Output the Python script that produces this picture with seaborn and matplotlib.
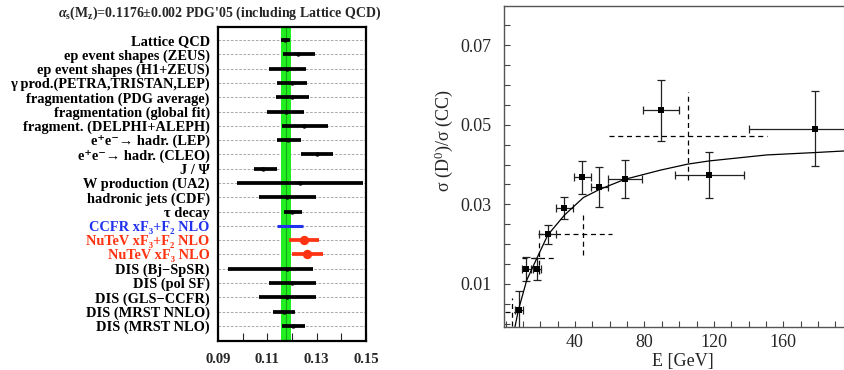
import numpy as np
import pandas as pd
import matplotlib
matplotlib.use('Agg')
import matplotlib.pyplot as plt
import seaborn as sns
from matplotlib.ticker import MultipleLocator

# left panel: alpha_s measurements
labels = ['Lattice QCD', 'ep event shapes (ZEUS)', 'ep event shapes (H1+ZEUS)',
          '\u03b3 prod.(PETRA,TRISTAN,LEP)', 'fragmentation (PDG average)',
          'fragmentation (global fit)', 'fragment. (DELPHI+ALEPH)',
          'e\u207ae\u207b\u2192 hadr. (LEP)', 'e\u207ae\u207b\u2192 hadr. (CLEO)', 'J / \u03a8',
          'W production (UA2)', 'hadronic jets (CDF)', '\u03c4 decay',
          'CCFR xF\u2083+F\u2082 NLO', 'NuTeV xF\u2083+F\u2082 NLO',
          'NuTeV xF\u2083 NLO', 'DIS (Bj\u2212SpSR)', 'DIS (pol SF)',
          'DIS (GLS\u2212CCFR)', 'DIS (MRST NNLO)', 'DIS (MRST NLO)']
alpha_val = [0.1172, 0.1226, 0.1178, 0.1199, 0.1201, 0.1174, 0.1249, 0.1185, 0.1303, 0.1081,
             0.1232, 0.1181, 0.1201, 0.1192, 0.1249, 0.1262, 0.1181, 0.1201, 0.1181, 0.1168, 0.1205]
err_lo = [0.0017, 0.0064, 0.0070, 0.0059, 0.0066, 0.0077, 0.0091, 0.0044, 0.0067, 0.0034,
          0.0254, 0.0113, 0.0035, 0.0052, 0.0061, 0.0062, 0.0242, 0.0093, 0.0113, 0.0044, 0.0045]
err_hi = [0.0020, 0.0067, 0.0079, 0.0061, 0.0067, 0.0075, 0.0098, 0.0050, 0.0062, 0.0057,
          0.0255, 0.0116, 0.0038, 0.0051, 0.0060, 0.0062, 0.0105, 0.0096, 0.0116, 0.0046, 0.0047]
group = ['other'] * 13 + ['CCFR', 'NuTeV', 'NuTeV'] + ['other'] * 5
pdg_avg, pdg_err = 0.1176, 0.002
alpha_ticks = [0.09, 0.10, 0.11, 0.12, 0.13, 0.14, 0.15]
alpha_ticklabels = ['0.09', '', '0.11', '', '0.13', '', '0.15']

# right panel: sigma(D0)/sigma(CC) vs E
E = [89.3, 178.1, 117.3, 44.2, 54.0, 68.8, 33.9, 24.3, 18.1, 11.8, 7.6]
ratio = [0.0536, 0.0490, 0.0373, 0.0368, 0.0343, 0.0363, 0.0290, 0.0225, 0.0138, 0.0138, 0.0035]
E_err = [10.3, 38.0, 20.0, 5.0, 5.0, 10.0, 5.0, 5.0, 2.5, 2.6, 2.4]
ratio_err = [0.0076, 0.0094, 0.0058, 0.0041, 0.0050, 0.0048, 0.0028, 0.0024, 0.0027, 0.0030, 0.0047]
# dashed crosses (other experiment)
E2 = [104.9, 44.4, 19.4, 3.9]
ratio2 = [0.0472, 0.0225, 0.0165, 0.0030]
E2_lo = [45.5, 25.5, 10.0, 4.4]
E2_hi = [45.5, 17.1, 10.0, 4.4]
ratio2_err = [0.0110, 0.0053, 0.0040, 0.0035]
# fit curve
curve_E = [4.8, 7.4, 12.2, 18.9, 24.3, 33.9, 44.8, 54.4, 68.8, 89.3, 104.9, 117.3, 150.3, 178.1, 195.0]
curve_r = [-0.002, 0.0035, 0.0110, 0.0173, 0.0223, 0.0273, 0.0317, 0.0338, 0.0363, 0.0386,
           0.0401, 0.0409, 0.0424, 0.0430, 0.0434]

sns.set_style('ticks')
plt.rcParams['font.family'] = ['Liberation Serif', 'DejaVu Serif']
plt.rcParams['mathtext.fontset'] = 'custom'
plt.rcParams['mathtext.rm'] = 'Liberation Serif'
plt.rcParams['mathtext.it'] = 'Liberation Serif:italic:bold'
plt.rcParams['mathtext.bf'] = 'Liberation Serif:bold'

fig = plt.figure(figsize=(8.44, 3.70), dpi=100)
ax1 = fig.add_axes([0.2583, 0.0784, 0.1754, 0.8486])
ax2 = fig.add_axes([0.5972, 0.1162, 0.4040, 0.8676])

df = pd.DataFrame({'label': labels, 'alpha': alpha_val, 'lo': err_lo, 'hi': err_hi, 'group': group})
df['row'] = np.arange(len(df))
colors = {'other': 'black', 'CCFR': '#2233ee', 'NuTeV': '#ff3311'}

ax1.axvspan(pdg_avg - pdg_err, pdg_avg + pdg_err, color='#22ee22', lw=0, zorder=1)
ax1.axvline(pdg_avg, color='#11aa11', lw=0.8, zorder=1)
ax1.grid(True, axis='y', ls=(0, (3, 2)), color='#999999', lw=0.6, zorder=0)
for g, sub in df.groupby('group'):
    ax1.errorbar(sub['alpha'], sub['row'], xerr=[sub['lo'], sub['hi']], fmt='none',
                 ecolor=colors[g], elinewidth=2.7 if g != 'CCFR' else 2.2, zorder=3)
sns.scatterplot(data=df[df.group == 'other'], x='alpha', y='row', color='black', s=10,
                linewidth=0, ax=ax1, zorder=4)
sns.scatterplot(data=df[df.group == 'NuTeV'], x='alpha', y='row', color='#ff3311', s=45,
                linewidth=0, ax=ax1, zorder=4)
ax1.set_xlim(0.09, 0.15)
ax1.set_ylim(21.05, -0.91)
ax1.set_yticks(df['row'])
ax1.set_yticklabels(df['label'], fontsize=10.4, fontweight='bold')
for t, g in zip(ax1.get_yticklabels(), df['group']):
    t.set_color(colors[g])
ax1.set_xticks(alpha_ticks)
ax1.set_xticklabels(alpha_ticklabels, fontsize=10.5, fontweight='bold')
ax1.tick_params(axis='y', length=0, pad=6)
ax1.tick_params(axis='x', direction='in', length=6, width=0.8, pad=9)
ax1.set_xlabel('')
ax1.set_ylabel('')
for s in ax1.spines.values():
    s.set_linewidth(1.6)
    s.set_color('black')
fig.text(0.2607, 0.965, '$\\alpha_\\mathbf{s}$(M$_\\mathbf{z}$)=0.1176\u00b10.002 PDG\'05 (including Lattice QCD)',
         ha='center', va='center', fontsize=10, fontweight='bold')

# right panel
pts = pd.DataFrame({'E': E, 'ratio': ratio, 'E_err': E_err, 'r_err': ratio_err})
ax2.errorbar(E2, ratio2, xerr=[E2_lo, E2_hi], yerr=ratio2_err, fmt='none', ecolor='black',
             elinewidth=0.9, capsize=0)
for lc in ax2.collections:
    lc.set_linestyle((0, (4, 3)))
ax2.errorbar(pts['E'], pts['ratio'], xerr=pts['E_err'], yerr=pts['r_err'], fmt='none',
             ecolor='#222222', elinewidth=0.9, capsize=3, capthick=0.9)
sns.lineplot(x=curve_E, y=curve_r, color='black', lw=0.9, ax=ax2, sort=False)
sns.scatterplot(data=pts, x='E', y='ratio', marker='s', color='black', s=20, linewidth=0,
                ax=ax2, zorder=5)
ax2.set_xlim(-0.9, 195.5)
ax2.set_ylim(-0.0008, 0.0798)
ax2.set_xticks([40, 80, 120, 160])
ax2.set_yticks([0.01, 0.03, 0.05, 0.07])
ax2.xaxis.set_minor_locator(MultipleLocator(10))
ax2.yaxis.set_minor_locator(MultipleLocator(0.005))
ax2.tick_params(which='both', direction='in', length=4, width=0.8, color='#444444', labelsize=13)
ax2.tick_params(axis='y', pad=9)
ax2.tick_params(axis='x', pad=5)
ax2.spines['right'].set_visible(False)
for s in ['left', 'bottom', 'top']:
    ax2.spines[s].set_color('#555555')
    ax2.spines[s].set_linewidth(1.0)
ax2.set_xlabel('E [GeV]', fontsize=13)
ax2.set_ylabel('\u03c3 (D$^0$)/\u03c3 (CC)', fontsize=13)
ax2.xaxis.set_label_coords(0.524, -0.08)
ax2.yaxis.set_label_coords(-0.145, 0.58)

fig.savefig('out.png', dpi=100)
